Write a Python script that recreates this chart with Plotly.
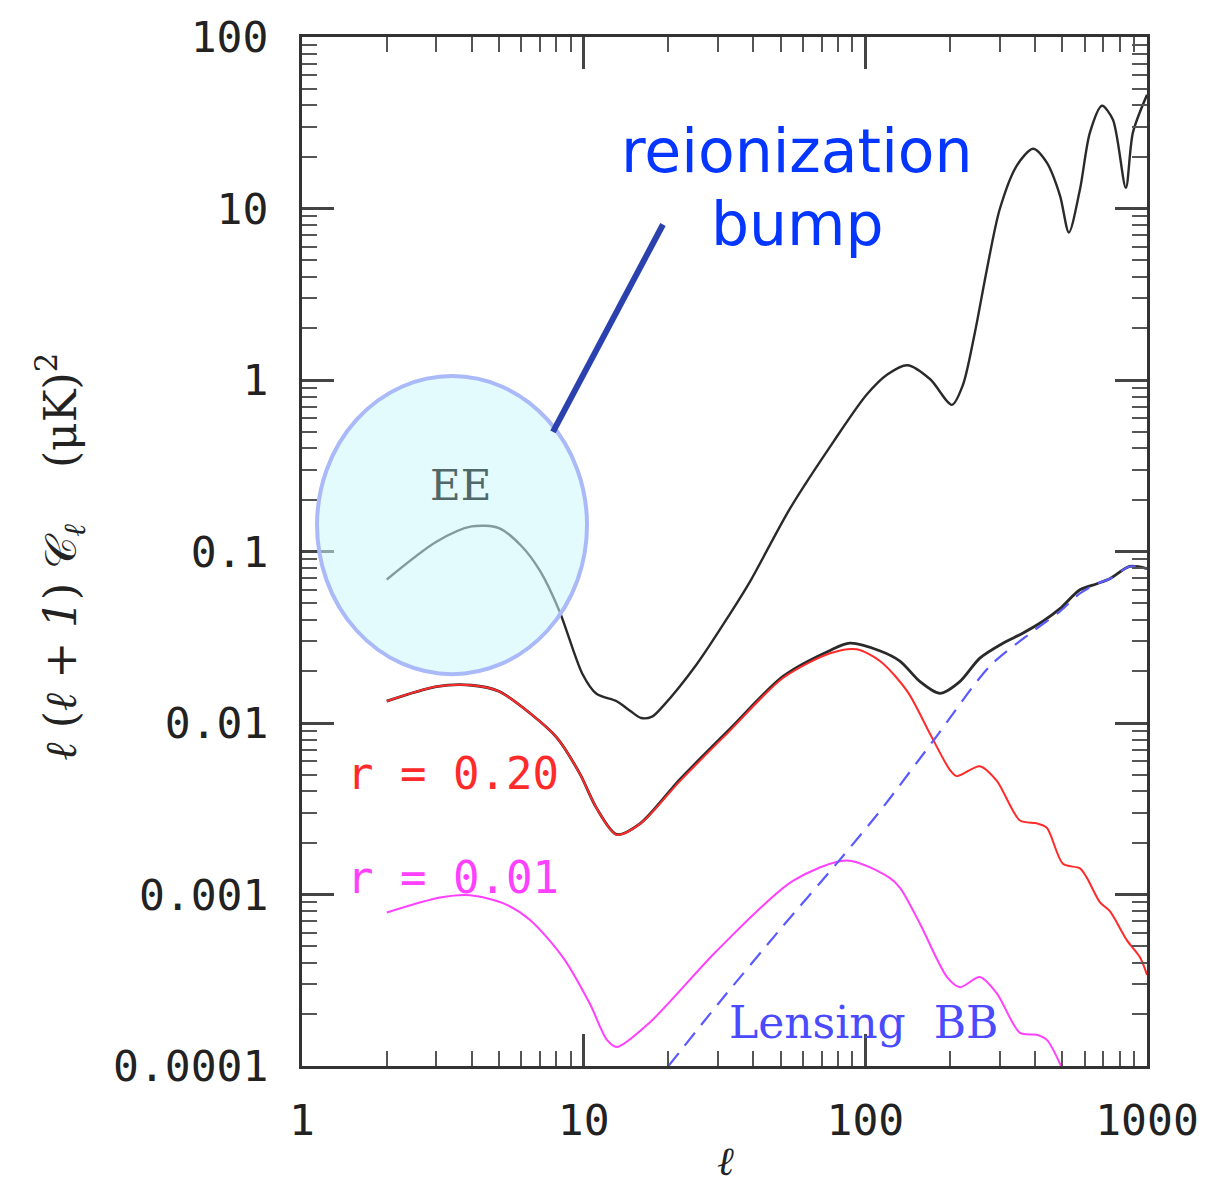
import plotly.graph_objects as go

# --- EE polarization spectrum (total, with reionization bump) ---
ee_l = [2, 3, 4, 5, 6, 7, 8.2, 9.9, 11.1, 13.1, 14.6, 16, 17.5, 19.1, 25.2, 33, 39, 54,
        77, 101, 120, 141, 170, 203, 222, 245, 270, 300, 345, 394, 441, 491, 528, 578,
        627, 692, 757, 841, 891, 1000]
ee_v = [0.0687, 0.114, 0.14, 0.137, 0.108, 0.077, 0.045, 0.0193, 0.0148, 0.0134,
        0.0118, 0.0107, 0.0109, 0.0125, 0.022, 0.043, 0.067, 0.178, 0.436, 0.82, 1.08,
        1.22, 1.01, 0.716, 0.935, 1.9, 4.4, 9.9, 17.8, 22.3, 18.5, 11.9, 7.25, 12.9,
        27.7, 39.7, 32.9, 13.2, 27.7, 46]

# --- total BB (tensor r = 0.20 plus lensing) ---
bbtot_l = [2, 3, 4, 5, 6.45, 8.04, 9.7, 11.1, 13.1, 15.9, 22, 33, 51, 75, 88, 113,
           133, 156, 184, 217, 255, 308, 362, 427, 491, 578, 664, 738, 869, 1000]
bbtot_v = [0.0134, 0.0163, 0.0166, 0.0153, 0.0114, 0.0082, 0.00505, 0.0032, 0.00224,
           0.0026, 0.0047, 0.0092, 0.0187, 0.0265, 0.0292, 0.0263, 0.0229, 0.0175,
           0.0149, 0.0175, 0.0239, 0.0292, 0.0334, 0.0392, 0.0464, 0.0598, 0.0649,
           0.0694, 0.0818, 0.0794]

# --- tensor BB, r = 0.20 ---
r20_l = [2, 3, 4, 5, 6.45, 8.04, 9.7, 11.1, 13.1, 15.9, 22, 33, 51, 75, 93, 113, 141,
         170, 200, 211, 255, 293, 354, 406, 441, 503, 578, 612, 681, 738, 849, 944, 1000]
r20_v = [0.0134, 0.0163, 0.0166, 0.0153, 0.0114, 0.0082, 0.00505, 0.0032, 0.00223,
         0.00259, 0.0046, 0.009, 0.0183, 0.0255, 0.0269, 0.0229, 0.0153, 0.0086,
         0.0053, 0.0049, 0.0056, 0.0046, 0.0027, 0.0026, 0.00245, 0.00151, 0.00142,
         0.00125, 0.0009, 0.0008, 0.00054, 0.00043, 0.00034]

# --- tensor BB, r = 0.01 ---
r01_l = [2, 3.09, 3.95, 5.17, 6.45, 8.44, 10.5, 12.1, 13.1, 17.2, 29.7, 55.3, 86, 122,
         133, 156, 195, 217, 255, 293, 354, 406, 441, 500]
r01_v = [0.000785, 0.00096, 0.00099, 0.00089, 0.00071, 0.00043, 0.000232, 0.000142,
         0.000129, 0.00018, 0.00047, 0.0012, 0.00158, 0.00125, 0.00109, 0.00068,
         0.00033, 0.000288, 0.00033, 0.000265, 0.000156, 0.000152, 0.000142, 0.0000965]

# --- lensing BB ---
lens_l = [20, 30, 50, 80, 113, 174, 277, 394, 491, 578, 664, 738, 869, 1000]
lens_v = [1.0e-4, 2.3e-4, 6.3e-4, 1.55e-3, 3.08e-3, 7.85e-3, 0.0215, 0.0343, 0.0448,
          0.057, 0.0649, 0.0694, 0.0818, 0.0794]

x_tickvals = [1, 10, 100, 1000]
x_ticktext = ["1", "10", "100", "1000"]
y_tickvals = [1e-4, 1e-3, 1e-2, 1e-1, 1, 10, 100]
y_ticktext = ["0.0001", "0.001", "0.01", "0.1", "1", "10", "100"]

# minor ticks at 2..9 of every decade
x_minor = [m * 10 ** d for d in range(0, 3) for m in range(2, 10)]
y_minor = [m * 10.0 ** d for d in range(-4, 2) for m in range(2, 10)]

fig = go.Figure()

def curve(x, y, color, width=2.2, dash=None):
    fig.add_trace(go.Scatter(
        x=x, y=y, mode="lines",
        line=dict(color=color, width=width, shape="spline", smoothing=0.8,
                  dash=dash),
        hoverinfo="skip", showlegend=False))

curve(ee_l, ee_v, "#2a2a2a", 2.4)
curve(bbtot_l, bbtot_v, "#2a2a2a", 2.8)
curve(r20_l, r20_v, "#ff2a2a", 2.0)
curve(r01_l, r01_v, "#ff40ff", 2.0)
curve(lens_l, lens_v, "#5a5aff", 2.2, dash="16px,10px")

axis_common = dict(
    type="log", ticks="inside", ticklen=32, tickwidth=2.5, tickcolor="#444",
    mirror="ticks", showline=True, linecolor="#333", linewidth=3,
    showgrid=False, zeroline=False,
    tickfont=dict(family="DejaVu Sans Mono", size=43, color="#222"),
)

fig.update_xaxes(range=[0, 3], tickvals=x_tickvals, ticktext=x_ticktext,
                 ticklabelstandoff=14,
                 minor=dict(tickmode="array", tickvals=x_minor, ticks="inside",
                            ticklen=15, tickwidth=2, tickcolor="#555",
                            showgrid=False),
                 **axis_common)
fig.update_yaxes(range=[-4, 2], tickvals=y_tickvals, ticktext=y_ticktext,
                 ticklabelstandoff=22,
                 minor=dict(tickmode="array", tickvals=y_minor, ticks="inside",
                            ticklen=15, tickwidth=2, tickcolor="#555",
                            showgrid=False),
                 **axis_common)

# highlighted low-l region
fig.add_shape(type="circle", xref="paper", yref="paper",
              x0=0.0178, x1=0.3373, y0=0.3808, y1=0.6705,
              fillcolor="rgba(205,248,252,0.55)",
              line=dict(color="#aab9f8", width=4), layer="above")
# pointer to the bump
fig.add_shape(type="line", xref="paper", yref="paper",
              x0=0.297, y0=0.6163, x1=0.4272, y1=0.8178,
              line=dict(color="#2a41ae", width=6), layer="above")

def label(text, x, y, color, family, size, xanchor="center", angle=0):
    fig.add_annotation(text=text, x=x, y=y, xref="paper", yref="paper",
                       xanchor=xanchor, yanchor="middle", showarrow=False,
                       textangle=angle,
                       font=dict(family=family, size=size, color=color))

label("reionization", 0.5858, 0.8895, "#0436ff", "DejaVu Sans", 60)
label("bump", 0.5858, 0.8178, "#0436ff", "DejaVu Sans", 60)
label("EE", 0.187, 0.564, "#506868", "DejaVu Serif", 42)
label("r = 0.20", 0.0509, 0.284, "#ff2a2a", "DejaVu Sans Mono", 44, xanchor="left")
label("r = 0.01", 0.0509, 0.1831, "#ff40ff", "DejaVu Sans Mono", 44, xanchor="left")
label("Lensing\u00a0\u00a0BB", 0.503, 0.0426, "#4a4aff", "DejaVu Serif", 44, xanchor="left")

# axis titles
label("<i>ℓ</i>", 0.5006, -0.092, "#222", "DejaVu Serif", 40)
label("<i>ℓ</i>\u00a0(<i>ℓ</i>\u00a0+\u00a0<i>1</i>)\u00a0𝒞<sub><i>ℓ</i></sub>"
      "\u00a0\u00a0\u00a0\u00a0(μK)<sup>2</sup>",
      -0.2864, 0.495, "#222", "DejaVu Serif", 44, angle=-90)

fig.update_layout(
    width=1212, height=1190,
    margin=dict(l=302, r=65, t=34, b=124),
    plot_bgcolor="white", paper_bgcolor="white",
)

fig.write_html("out.html")
